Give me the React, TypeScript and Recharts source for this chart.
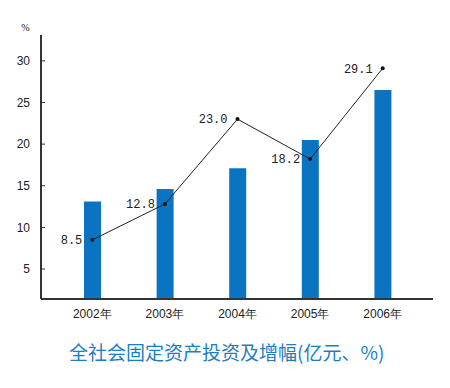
import { ComposedChart, Bar, Line, XAxis, YAxis, LabelList } from 'recharts';

const years = ['2002年', '2003年', '2004年', '2005年', '2006年'];
const investment = [13.1, 14.6, 17.1, 20.5, 26.5];
const growth = [8.5, 12.8, 23.0, 18.2, 29.1];
const yTicks = [5, 10, 15, 20, 25, 30];

const data = years.map((year, i) => ({ year, investment: investment[i], growth: growth[i] }));

const YTick = (props: any) => {
  const { x, y, payload } = props;
  return (
    <g>
      <line x1={x + 11} x2={x + 15} y1={y} y2={y} stroke="#333" strokeWidth={1} />
      <text x={x} y={y} dy="0.35em" textAnchor="end" fontSize={12} fill="#222" fontFamily="Liberation Sans, Arial, sans-serif">
        {payload.value}
      </text>
    </g>
  );
};

export default function App() {
  return (
    <div style={{ position: 'absolute', left: 0, top: 0, width: 450, height: 388, background: '#fff' }}>
      <ComposedChart width={450} height={388} data={data} margin={{ top: 35, right: 17, left: 0, bottom: 69 }}>
        <XAxis
          dataKey="year"
          padding={{ left: 15, right: 14 }}
          axisLine={{ stroke: '#333', strokeWidth: 2 }}
          tickLine={false}
          tickSize={0}
          tickMargin={10}
          height={20}
          tick={{ fontSize: 12, fill: '#222', fontFamily: 'Liberation Sans, Arial, sans-serif' }}
        />
        <YAxis
          type="number"
          domain={[1.4, 33.1]}
          ticks={yTicks}
          width={41}
          axisLine={{ stroke: '#333', strokeWidth: 2 }}
          tickLine={false}
          tickSize={0}
          tickMargin={11}
          tick={<YTick />}
          label={{ value: '%', position: 'top', offset: 4, dx: 5, fontSize: 10, fill: '#222' }}
        />
        <Bar dataKey="investment" fill="#0a74c2" barSize={17} isAnimationActive={false} />
        <Line
          type="linear"
          dataKey="growth"
          stroke="#222"
          strokeWidth={1}
          dot={{ r: 2, fill: '#111', stroke: '#111', strokeWidth: 0 }}
          activeDot={false}
          isAnimationActive={false}
        >
          <LabelList dataKey="growth" position="left" offset={10} fontSize={12} fill="#222" fontFamily="Liberation Mono, monospace" formatter={(v: any) => Number(v).toFixed(1)} />
        </Line>
      </ComposedChart>
      <div
        style={{
          position: 'absolute',
          left: 69,
          top: 340,
          fontSize: 19,
          color: '#1a7ec4',
          fontFamily: '"Noto Sans CJK SC", sans-serif',
          whiteSpace: 'nowrap',
          lineHeight: '24px',
        }}
      >
        全社会固定资产投资及增幅(亿元、%)
      </div>
    </div>
  );
}
